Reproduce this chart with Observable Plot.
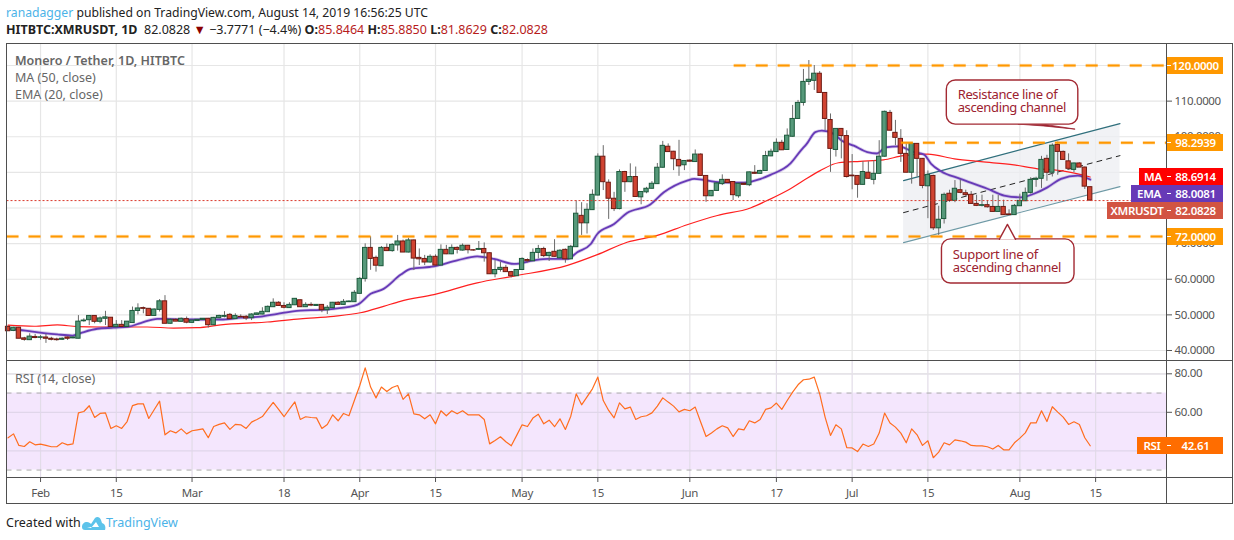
<!DOCTYPE html>
<html>
<head>
<meta charset="utf-8">
<script src="https://cdn.jsdelivr.net/npm/d3@7"></script>
<script src="https://cdn.jsdelivr.net/npm/@observablehq/plot@0.6"></script>
<style>
html,body{margin:0;padding:0;background:#fff;}
#page{position:relative;width:1234px;height:540px;overflow:hidden;font-family:"Noto Sans",sans-serif;color:#222;}
#page svg{background:transparent;overflow:visible;}
.abs{position:absolute;white-space:nowrap;}
.plot{position:absolute;left:0;}
.badge{position:absolute;height:17px;line-height:17px;color:#fff;font-size:11.5px;font-weight:600;text-align:center;letter-spacing:-0.3px;}
.rd{color:#b71c1c;}
</style>
</head>
<body>
<div id="page"></div>
<script>
// Daily candles, [open, high, low, close]
const jan26 = [[46.65,46.7,45.4,45.4],[45.5,46.5,45.3,46.4],[46.4,46.5,43.3,43.3],[43.4,43.7,42.6,43.0],[42.9,44.7,42.8,43.9],[43.8,44.5,43.3,43.5]];
const feb = [[43.55,44.2,42.9,43.7],[43.65,44.5,42,43.3],[43.3,43.7,42.7,43.0],[43.1,43.45,42.6,42.9],[43,43.55,42.8,43.3],[43.65,43.8,42.8,43.3],[43.4,43.8,43.3,43.65],[43.3,49.8,43.3,48.1],[48.2,48.9,47.95,48.4],[48.5,49.7,47,49.7],[49.7,49.7,47.5,48.05],[48.05,49.4,47.5,49],[48.9,51,47,49.3],[49.2,49.2,46.1,46.6],[46.55,48.4,46.3,47.2],[47.2,48.4,46.55,46.6],[46.6,48.1,46.55,48.1],[47.7,52.2,47.7,51.1],[51.1,53.1,50,51.8],[51.9,52.2,50.3,51.7],[51.7,51.7,49.7,49.7],[49.7,51.7,49.7,51.5],[51.4,54.3,50.8,53.8],[53.8,55.4,47.5,47.5],[47.5,48.9,47.4,48.6],[48.6,48.9,48.1,48.1],[48.05,49.1,48,48.9],[48.8,49.4,47.5,47.8]];
const mar = [[47.76,48.5,47.6,48.4],[48.3,48.7,48.2,48.6],[48.6,48.9,48.4,48.9],[48.9,49,46.3,47.1],[47.1,49.3,47,49.16],[49.07,49.9,48.9,49.7],[49.45,50.9,49.16,49.7],[50,50.4,48.7,48.8],[48.8,50.3,48.7,49.7],[49.45,50,49,49.35],[49.45,49.8,48.4,49],[49.07,50.3,48.4,50.1],[50,50.5,49.9,50.4],[50.1,52,50,50.85],[50.75,52.5,50.7,52.25],[52.15,54.5,52.06,53.4],[53.4,53.7,52.5,52.5],[52.5,53.4,51.7,52],[51.9,53.4,51.8,52.8],[52.7,54.6,52.6,54.5],[54.1,54.2,52.1,52.15],[52.15,53.4,52.06,52.8],[52.8,53.4,52.3,52.6],[52.5,52.9,52.4,52.8],[52.8,52.9,50.6,51.3],[51.3,52.6,50.1,52],[51.9,53.5,51.9,53.4],[53.4,53.7,52.8,52.8],[52.8,54.3,52.7,53.65],[53.56,53.9,53.5,53.75],[53.56,56.8,53.5,56.2]];
const apr = [[55.9,60.5,55.9,60.1],[60.1,69.94,59.2,68.8],[68.8,71.9,62.5,65.7],[66,66.5,62,63.8],[63.66,69.2,63.6,68.8],[68.8,69.9,67.9,67.9],[67.9,70,67.6,69.65],[69.5,72.3,67.9,70.6],[70.6,71,67.5,67.5],[67.5,71.5,67.4,70.9],[70.9,71,62.45,65.8],[66,68.5,63.85,65.6],[65.7,66.7,63.85,64.7],[64.7,66.85,64.5,66.3],[66.3,66.85,63.85,63.85],[63.85,69.65,63.8,68.25],[68.25,69.5,66.9,67],[67,69.65,66.9,68.8],[68.8,69.1,67.1,68.25],[68.05,69.9,67.9,69.4],[69.4,69.5,67.1,68.15],[68.15,68.3,67.9,68.05],[68.25,70.6,68.1,68.5],[68.5,70.2,64.8,67.3],[67.3,67.4,61.4,61.4],[61.4,65.25,60.4,62.6],[62.6,64.8,62,63.2],[63.2,63.9,62,62],[62,62.2,60.4,60.85],[60.85,62.7,60.8,62.6]];
const may = [[62.6,66,62.5,65.7],[65.4,65.7,64.6,65.05],[65.05,68.5,65,67.4],[67.4,69.5,65.7,68.5],[68.5,69,66.1,66.5],[66.5,67.6,65,67.4],[67.7,71.1,66.2,66.3],[65.9,68.3,65.8,68],[68.25,68.5,64.5,65.6],[65.6,69.5,65.5,69.1],[69,82,68.9,78.4],[77.8,81.5,72.3,75.7],[75.7,81.2,72.7,79.5],[79.4,85.1,79.3,83.7],[83.5,95.2,83.4,94.4],[94.4,97.5,84.9,87.25],[87.1,87.9,76.8,82.6],[82.6,84.4,79,79.7],[79.7,90.7,79.5,90.1],[90.1,90.3,84.4,87.25],[87.25,92.4,87.1,88.7],[88.7,91.5,83,83.1],[83,84.5,80.9,84.5],[84.4,85.8,84,85.4],[85.4,87.4,85.3,86.8],[86.7,92.5,86.6,91.3],[91.3,98.7,91.2,97.45],[97.2,98,95.7,95.7],[95.8,95.9,90.5,93.7],[93.5,99,88.9,91.7],[92,93.3,90.5,93.2]];
const jun = [[93.3,93.5,92.9,93],[92.9,96.3,92.8,95],[95,95.2,89,89],[89,89.1,81.6,83.3],[83.3,84.9,83.2,84.8],[84.8,87,84.7,86.9],[86.7,89.3,86.3,87.9],[87.9,88,87,87],[87.3,87.4,82.1,83.6],[83.3,86.9,82.75,86.8],[86.8,87.1,86.4,86.5],[86.4,90.1,86,90],[89.9,91.9,89.5,89.6],[89.6,90.6,89.5,90.4],[90.4,95.9,90.3,94.6],[94.5,96.5,94.4,95.8],[95.7,99.4,95.6,98.3],[98.3,99,96.2,96.2],[96.3,102.2,96.2,100.3],[100,108.8,99.9,105],[105,110.2,104.9,109.5],[109.5,118.9,108.6,115.4],[115.4,121.4,114.4,116],[115.7,120,113,117.7],[117.7,118.3,112.3,112.3],[112.3,112.4,101.7,105],[104.7,106.4,90,96.6],[96.3,102.2,94.3,102.2],[102.2,102.3,93.8,100.2],[100.2,101.7,88.4,88.7]];
const jul = [[89.1,95,85.1,88.9],[89,89.1,82.75,86.5],[86.5,93,86.4,90.1],[89.9,93,88.1,88.2],[87.9,93.3,86.5,89.6],[89.6,98.9,89.5,94.4],[94.4,107.2,94.3,107],[106.7,107.4,101.7,101.7],[101.1,104.6,97.5,99.7],[99.4,102,92.8,95.2],[95.2,98,89.9,89.9],[89.9,98.2,86.7,98],[98,98.1,88.7,93.8],[93.8,93.9,85.4,86.2],[86.1,90.4,77,89.3],[89,89.2,73.7,74.3],[74.3,80.5,72.3,76.7],[76.9,84.2,75.5,83.7],[84,85,81.6,82],[82,87.7,81.5,85.4],[85,87.9,84,84.25],[84.15,85,83.3,83.6],[83.7,84.6,81,81.15],[81.15,83.6,80.4,80.6],[80.6,83.6,80.3,80.8],[80.8,82,80,80.2],[80.3,83.6,78.8,78.9],[78.9,83.5,78.8,80.3],[80.3,82.2,78,78],[78.2,79.5,78,78],[78,81,77.9,80.6]];
const aug = [[80.5,83.9,80.4,82],[81.9,85.6,81.8,84.25],[84.25,88.5,83.9,87.9],[87.9,88.65,85.8,88.2],[88.2,94.5,85.5,93.5],[93.8,94.8,87.5,89.9],[89.9,98,88.7,97.5],[97.7,98.5,89.2,95.75],[95.75,96,93.5,93.5],[93.1,95.2,91,91],[90.7,92.6,89.9,92.5],[92.5,92.7,91.35,91.35],[91.35,91.5,85.2,86],[85.8464,85.885,81.8629,82.0828]];

// RSI (14), one value per candle
const rsiValues = [46.75,48.8,42.8,42.25,44.7,43.1,43.5,42.8,42.1,42.1,44.15,43.1,43.6,59.7,60.4,63.4,57.3,59.4,59.7,51.6,53,51.6,55.2,63.5,64.4,64.4,56.8,61.3,65.8,48.3,50.4,49.3,51.4,48.8,50.4,50.9,51.4,46.8,52.6,53.7,54.5,51.1,53.7,53.5,51.6,54.9,56.3,57.8,61.5,65.1,61.5,57.7,61.6,65.4,56.3,57.7,57.3,57.1,51.6,53.7,58.7,55.6,59.4,58.2,66.1,73.9,83.1,73.1,67.5,73.1,70.8,72.9,73.9,66.7,69.6,59.2,58.7,56.6,58.7,54,60.8,58.2,60.8,59.2,60.8,58.7,58.7,58.7,56.3,43.6,45.4,47.3,44.7,42.6,48,53.5,52.6,57,59,54,55.9,52.5,56.6,51.1,58,69.6,63.9,68.05,72.2,78.3,66.1,60.95,57.1,64.9,61.8,62.7,56.3,57.7,58.2,59.7,63.2,67.5,65.3,63.2,60.2,61.5,60.8,62.7,55,47.4,49.3,51.4,53,51.9,47.4,51.4,50.9,55.6,54.5,56.3,61.5,62.3,64.8,61.5,66.1,70.5,74.3,76.9,77.2,78.3,69.6,57.5,48,53.5,51.4,41.7,41.5,39.6,43.5,42.25,43.5,49.2,59.6,54.4,52.3,49.2,44.15,51.4,48.3,42.8,45.2,36.4,39.3,44.15,43.1,45.7,45.2,44.5,42.8,42.6,42.6,42.1,40.9,42.8,40.5,40.5,44.15,46.6,49.3,54.5,54.5,60.8,55.2,62.9,60.1,57.5,53.7,55.1,53.7,46.8,42.61];

// Moving averages: days after Jan 26 and the value read there
const emaDays = [0,3.2,6.6,9.1,11.9,13.4,16.5,19.5,22.3,24.5,27.6,28.8,31.9,35.6,39.3,43,46.7,49.8,54,57.8,60.2,64.6,67,69.4,72.6,74.4,78.7,83,86.7,88,89.8,93.5,97.2,99.7,103.4,105.2,107.7,108.9,112,114.4,118.7,121.2,125.5,126.8,131.7,136,139.1,140.9,144.6,146.5,147.6,149.2,150.4,152.6,154.1,156.3,158.8,160.6,162.2,164.6,167.4,169.3,170.6,172.4,176,181,184.1,187.2,189.6,192.1,194.6,197.7,200];
const emaValues = [46.1,45.6,44.9,44.5,44.2,44.9,46.1,46.4,46.7,47.7,48.9,48.9,48.7,48.7,48.7,49.2,49.5,50.3,51.2,51.4,51.7,52.9,55.9,57.3,61.3,62.9,63.6,65.3,66.4,66.2,65.7,64.3,65.3,65.7,65.7,67.6,69.9,72.7,75.5,78.6,81,84.4,87.7,88.2,87.2,87.1,88.2,89.3,92.5,96.1,98,101.3,101.7,100.8,98.9,97.5,95.7,95.3,97,97.3,95.7,95,92.4,90.3,88.2,85.4,83.5,83,84,85.8,88.2,89.1,88];
const maDays = [0,4.8,9.1,12.8,17.1,25.7,30.6,35,39.3,47.9,54,60.2,65.1,69.4,72.5,78.7,86.7,93.5,103.4,108.9,114.4,120,125.5,131.1,137.2,140.3,144.6,147,150.1,153.5,157.5,161.8,165.5,170,174.9,179.8,185.9,190.3,193.3,196.4,200];
const maValues = [47.1,46.8,47.2,46.7,46.6,46.6,46.3,46.4,47.2,48,48.9,49.6,50.6,52.4,53.8,55.7,59,60.9,63.9,66.9,70.4,72.3,75.3,77.9,80,82.1,85.4,87.7,90.5,92.7,93.1,93.5,94.7,95.1,93.8,93,92.1,91,90.7,90,88.7];

// Axes
const priceTicks = [40,50,60,70,80,90,100,110];
const priceGrid = [40,50,60,70,80,90,100,110,120];
const rsiTicks = [40,60,80];
const tickDates = ["2019-02-01","2019-02-15","2019-03-01","2019-03-18","2019-04-01","2019-04-15","2019-05-01","2019-05-15","2019-06-01","2019-06-17","2019-07-01","2019-07-15","2019-08-01","2019-08-15"];
const tickLabels = ["Feb","15","Mar","18","Apr","15","May","15","Jun","17","Jul","15","Aug","15"];

// Horizontal levels: value, first day (days after Feb 1)
const levelValues = [120,98.2939,72];
const levelStart = [128.2,159.1,-6.2];
const lastClose = 82.0828;

// Ascending channel, days after Feb 1
const channelDays = [159.5,199.5];
const channelTop = [87.7,103.7];
const channelMid = [78.7,94.7];
const channelLow = [70.3,86];

// Call-outs
const resistanceBox = {d1:167.5,d2:191.8,p1:115.8,p2:103.4,textDay:169.5,textPrice:109.9,text:"Resistance line of\nascending channel"};
const supportBox = {d1:166.6,d2:191.1,p1:71.2,p2:58.8,textDay:168.6,textPrice:65,text:"Support line of\nascending channel"};
const tailDays = [180.8,185.4,191.3], tailTop = [103.4,103.4,102], tailBottom = [103.4,102.9,102];
const notchDays = [177.2,178.7,180.2], notchPeak = [71.2,75.4,71.2], notchBase = [71,71,71];

// Price tags on the right
const tags = [
 {v:"120.0000",c:"#ff9800",t:57},
 {v:"98.2939",c:"#ff9800",t:134},
 {l:"MA",v:"88.6914",c:"#ff0000",t:168,w:28},
 {l:"EMA",v:"88.0081",c:"#673ab7",t:185,w:36},
 {l:"XMRUSDT",v:"82.0828",c:"#d25442",t:202,w:60},
 {v:"72.0000",c:"#ff9800",t:228},
 {l:"RSI",v:"42.61",c:"#ff6d00",t:437,w:30}
];

const font = '"Noto Sans",sans-serif';
const grey = "#555";
const upFill = "#56997a", upEdge = "#1c5a3c", downFill = "#d04331", downEdge = "#6e1a12", wick = "#6a6a6a";
const DAY = 864e5;
const feb1 = Date.UTC(2019,1,1);
const day = d => new Date(feb1 + d*DAY);
const xDomain = [day(-6.2), day(208.1)];

const rows = [...jan26,...feb,...mar,...apr,...may,...jun,...jul,...aug];
const candles = rows.map(([o,h,l,c],i)=>({i,date:day(i-6),o,h,l,c,up:c>=o,rsi:rsiValues[i]}));
const ema = emaDays.map((d,i)=>({date:day(d-6),v:emaValues[i]}));
const ma = maDays.map((d,i)=>({date:day(d-6),v:maValues[i]}));
const tickD = tickDates.map(s=>new Date(s+"T00:00:00Z"));
const tickMap = new Map(tickD.map((d,i)=>[+d,tickLabels[i]]));
const channel = channelDays.map((d,i)=>({date:day(d),top:channelTop[i],mid:channelMid[i],low:channelLow[i]}));
const levels = levelValues.map((v,i)=>({v,start:day(levelStart[i]),end:xDomain[1]}));
const tailData = tailDays.map((d,i)=>({date:day(d),a:tailTop[i],b:tailBottom[i]}));
const notchData = notchDays.map((d,i)=>({date:day(d),a:notchBase[i],b:notchPeak[i]}));

const page = document.getElementById("page");
const axisStyle = {fontFamily:font,fontSize:"11.5px",color:grey,background:"transparent",letterSpacing:"-0.35px"};

const main = Plot.plot({
  width:1234,height:317,marginLeft:6.5,marginRight:68,marginTop:0,marginBottom:0,
  style:axisStyle,
  x:{type:"utc",domain:xDomain},
  y:{domain:[37.19,126.18]},
  marks:[
    Plot.ruleX(tickD,{stroke:"#e6e6e6",strokeWidth:1.2}),
    Plot.ruleY(priceGrid,{stroke:"#e6e6e6",strokeWidth:1.2}),
    Plot.areaY(channel,{x:"date",y1:"low",y2:"top",fill:"#eceef2",fillOpacity:0.75}),
    Plot.line(channel,{x:"date",y:"top",stroke:"#2f6f7c",strokeWidth:1.2}),
    Plot.line(channel,{x:"date",y:"low",stroke:"#6f9aa6",strokeWidth:1.2}),
    Plot.line(channel,{x:"date",y:"mid",stroke:"#222",strokeWidth:1,strokeDasharray:"5,5"}),
    Plot.line(ma,{x:"date",y:"v",stroke:"#ff2020",strokeWidth:1.2,curve:"monotone-x"}),
    Plot.line(ema,{x:"date",y:"v",stroke:"#673ab7",strokeOpacity:0.25,strokeWidth:3.4,curve:"monotone-x"}),
    Plot.line(ema,{x:"date",y:"v",stroke:"#673ab7",strokeWidth:1.8,curve:"monotone-x"}),
    Plot.ruleX(candles,{x:"date",y1:"l",y2:"h",stroke:wick,strokeWidth:1}),
    Plot.rect(candles,{x1:d=>new Date(+d.date-0.4*DAY),x2:d=>new Date(+d.date+0.4*DAY),y1:"o",y2:"c",
      fill:d=>d.up?upFill:downFill,stroke:d=>d.up?upEdge:downEdge,strokeWidth:1}),
    Plot.ruleY([lastClose],{stroke:"#d9382b",strokeWidth:1,strokeDasharray:"2,2"}),
    Plot.ruleY(levels,{y:"v",x1:"start",x2:"end",stroke:"#ff9800",strokeOpacity:0.25,strokeWidth:3.5,strokeDasharray:"12,10"}),
    Plot.ruleY(levels,{y:"v",x1:"start",x2:"end",stroke:"#ff9800",strokeWidth:2,strokeDasharray:"12,10"}),
    // call-outs
    Plot.areaY(tailData,{x:"date",y1:"a",y2:"b",fill:"#9c2230",stroke:"#9c2230",strokeWidth:0.8}),
    Plot.rect([resistanceBox,supportBox],{x1:d=>day(d.d1),x2:d=>day(d.d2),y1:"p1",y2:"p2",fill:"#fff",stroke:"#a32a33",strokeWidth:1.4,rx:9}),
    Plot.areaY(notchData,{x:"date",y1:"a",y2:"b",fill:"#fff"}),
    Plot.line(notchData,{x:"date",y:"b",stroke:"#a32a33",strokeWidth:1.4}),
    Plot.text([resistanceBox,supportBox],{x:d=>day(d.textDay),y:"textPrice",text:"text",textAnchor:"start",lineHeight:0.98,fill:"#9c2230",fontSize:13,letterSpacing:"0"}),
    Plot.axisY({anchor:"right",ticks:priceTicks,tickFormat:d3.format(".4f"),tickSize:5,tickPadding:3,label:null,stroke:grey,fill:grey}),
    Plot.axisX({ticks:[],label:null,tickSize:0})
  ]
});
main.classList.add("plot");main.style.top="43px";
page.appendChild(main);

const rsi = Plot.plot({
  width:1234,height:143,marginLeft:6.5,marginRight:68,marginTop:0,marginBottom:26,
  style:axisStyle,
  x:{type:"utc",domain:xDomain},
  y:{domain:[26.13,86.91]},
  marks:[
    Plot.rect([0],{x1:xDomain[0],x2:xDomain[1],y1:30,y2:70,fill:"#f4e6fd"}),
    Plot.ruleX(tickD,{stroke:"#e2dce8",strokeWidth:1.2}),
    Plot.ruleY(rsiTicks,{stroke:"#e0d6ea",strokeWidth:1.2}),
    Plot.ruleY([80],{stroke:"#e6e6e6",strokeWidth:1.2}),
    Plot.ruleY([70,30],{stroke:"#aaa",strokeWidth:1,strokeDasharray:"5,5"}),
    Plot.line(candles,{x:"date",y:"rsi",stroke:"#ff6d1f",strokeWidth:1.2}),
    Plot.axisY({anchor:"right",ticks:rsiTicks,tickFormat:d3.format(".2f"),tickSize:5,tickPadding:3,label:null,stroke:grey,fill:grey}),
    Plot.axisX({ticks:tickD,tickFormat:d=>tickMap.get(+d),tickSize:5,tickPadding:6,label:null,stroke:grey,fill:grey})
  ]
});
rsi.classList.add("plot");rsi.style.top="360px";
page.appendChild(rsi);

// frame
function line(l,t,w,h,c){const e=document.createElement("div");e.style.cssText=`position:absolute;left:${l}px;top:${t}px;width:${w}px;height:${h}px;background:${c||"#4f4f4f"}`;page.appendChild(e);}
line(6,43,1226,1);line(6,503,1226,1);line(6,43,1,461);line(1232,43,1,461);line(6,360,1226,1);line(6,477,1226,1);line(1166,43,1,461);

// tags
tags.forEach(t=>{
  const e=document.createElement("div");e.className="badge";
  e.style.cssText=`left:1167px;top:${t.t}px;width:55px;padding-left:1px;background:${t.c}`;e.textContent=t.v;page.appendChild(e);
  line(1167,t.t+8,4,1,"#fff");
  if(t.l){const a=document.createElement("div");a.className="badge";
    a.style.cssText=`left:${1167-t.w}px;top:${t.t}px;width:${t.w}px;background:${t.c}`;a.textContent=t.l;page.appendChild(a);}
});

// texts
function html(l,t,s,css){const e=document.createElement("div");e.className="abs";e.style.cssText=`left:${l}px;top:${t}px;`+css;e.innerHTML=s;page.appendChild(e);}
html(6,4,'<span style="color:#4bb3e8">ranadagger</span> published on TradingView.com, August 14, 2019 16:56:25 UTC',"font-size:12.2px;color:#222");
html(6,21,'<b>HITBTC:XMRUSDT, 1D</b>&nbsp; 82.0828 <span style="color:#8b0000">▼</span> −3.7771 (−4.4%) <b>O:</b><span class="rd">85.8464</span> <b>H:</b><span class="rd">85.8850</span> <b>L:</b><span class="rd">81.8629</span> <b>C:</b><span class="rd">82.0828</span>',"font-size:12.5px;color:#222");
html(15,52,'Monero / Tether, 1D, HITBTC',"font-size:12.5px;font-weight:600;color:#666");
html(15,69,'MA (50, close)',"font-size:12.5px;color:#666");
html(15,86,'EMA (20, close)',"font-size:12.5px;color:#666");
html(15,370,'RSI (14, close)',"font-size:12.5px;color:#666");
html(6,514,'Created with',"font-size:12.5px;color:#222");
html(106,514,'TradingView',"font-size:12.5px;color:#4bb3e8");
html(82,514,'<svg width="24" height="15" viewBox="0 0 24 15"><path d="M0 11 C0 8 2 6 5 6 C7 6 8 7 9 8 L13 2 C15 0 18 1 19 4 L20 7 C23 8 24 11 23 14 L3 14 C1 14 0 13 0 11Z M5 11 L9 12 L14 6 L17 11 Z" fill-rule="evenodd" fill="#5cc3ea"/></svg>',"");
</script>
</body>
</html>
